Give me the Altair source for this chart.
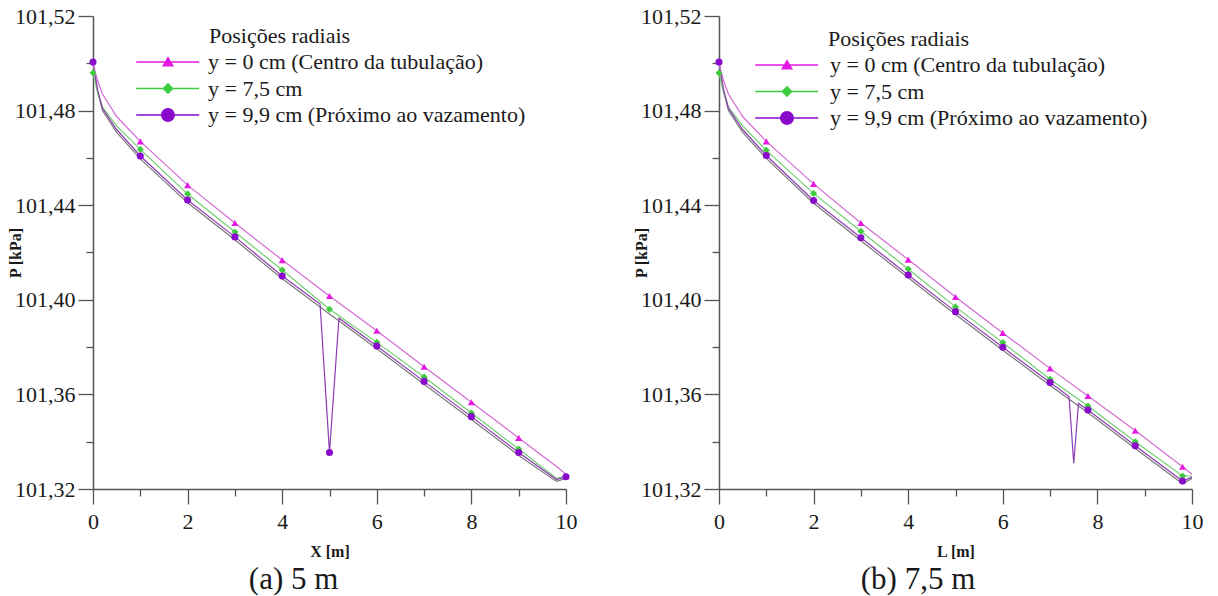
import altair as alt
import pandas as pd

SERIES = ["y = 0 cm (Centro da tubulação)", "y = 7,5 cm", "y = 9,9 cm (Próximo ao vazamento)"]
MARK_COLORS = ["#E41AE4", "#3DCC3D", "#8A0ACB"]
LINE_COLORS = ["#D36AD3", "#6FCF6F", "#8E3DB3"]
GRAY_LINE = "#7A7A7A"
SHAPES = ["triangle-up", "diamond", "circle"]

Y_MAJOR = [101.32, 101.36, 101.40, 101.44, 101.48, 101.52]
Y_MINOR = [101.34, 101.38, 101.42, 101.46, 101.50]
X_MAJOR = [0, 2, 4, 6, 8, 10]
X_MINOR = [1, 3, 5, 7, 9]

# ---------- panel (a): leak at 5 m ----------
A_X = [0, 0.1, 0.2, 0.5, 1, 2, 3, 4, 5, 6, 7, 8, 9, 9.8, 10]
A_MAG = [101.4998, 101.4925, 101.4870, 101.4775, 101.4670, 101.4485, 101.4325, 101.4168,
         101.4016, 101.3869, 101.3717, 101.3567, 101.3416, 101.3295, 101.3262]
A_GRN = [101.4959, 101.4875, 101.4815, 101.4735, 101.4636, 101.4447, 101.4287, 101.4126,
         101.3960, 101.3820, 101.3674, 101.3521, 101.3369, 101.3245, 101.3255]
A_GRAY = [101.4998, 101.4878, 101.4800, 101.4708, 101.4596, 101.4410, 101.4254, 101.4089,
          101.3940, 101.3793, 101.3643, 101.3494, 101.3342, 101.3232, 101.3245]
A_PUR_X = [0, 0.1, 0.2, 0.5, 1, 2, 3, 4, 4.8, 5, 5.2, 6, 7, 8, 9, 9.8, 10]
A_PUR = [101.5005, 101.4885, 101.4810, 101.4720, 101.4608, 101.4422, 101.4266, 101.4101,
         101.3982, 101.3354, 101.3922, 101.3805, 101.3655, 101.3506, 101.3354, 101.3240, 101.3252]

A_MAG_MK_X = [1, 2, 3, 4, 5, 6, 7, 8, 9]
A_MAG_MK = [101.4670, 101.4485, 101.4325, 101.4168, 101.4016, 101.3869, 101.3717, 101.3567, 101.3416]
A_GRN_MK_X = [0, 1, 2, 3, 4, 5, 6, 7, 8, 9]
A_GRN_MK = [101.4959, 101.4636, 101.4447, 101.4287, 101.4126, 101.3960, 101.3820, 101.3674, 101.3521, 101.3369]
A_PUR_MK_X = [0, 1, 2, 3, 4, 5, 6, 7, 8, 9, 10]
A_PUR_MK = [101.5005, 101.4608, 101.4422, 101.4266, 101.4101, 101.3354, 101.3805, 101.3655,
            101.3506, 101.3354, 101.3252]

# ---------- panel (b): leak at 7.5 m ----------
B_X = [0, 0.1, 0.2, 0.5, 1, 2, 3, 4, 5, 6, 7, 7.8, 8.8, 9.8, 10]
B_MAG = [101.4998, 101.4925, 101.4870, 101.4775, 101.4670, 101.4490, 101.4325, 101.4170,
         101.4012, 101.3860, 101.3710, 101.3593, 101.3447, 101.3294, 101.3262]
B_GRN = [101.4959, 101.4875, 101.4815, 101.4735, 101.4632, 101.4450, 101.4290, 101.4130,
         101.3970, 101.3819, 101.3664, 101.3551, 101.3400, 101.3255, 101.3255]
B_GRAY = [101.4998, 101.4878, 101.4800, 101.4708, 101.4598, 101.4408, 101.4250, 101.4093,
          101.3938, 101.3787, 101.3638, 101.3522, 101.3371, 101.3222, 101.3245]
B_PUR_X = [0, 0.1, 0.2, 0.5, 1, 2, 3, 4, 5, 6, 7, 7.4, 7.5, 7.6, 7.8, 8.8, 9.8, 10]
B_PUR = [101.5005, 101.4885, 101.4810, 101.4720, 101.4610, 101.4420, 101.4262, 101.4105,
         101.3950, 101.3799, 101.3650, 101.3591, 101.3309, 101.3562, 101.3534, 101.3383,
         101.3234, 101.3250]

B_MAG_MK_X = [1, 2, 3, 4, 5, 6, 7, 7.8, 8.8, 9.8]
B_MAG_MK = [101.4670, 101.4490, 101.4325, 101.4170, 101.4012, 101.3860, 101.3710, 101.3593,
            101.3447, 101.3294]
B_GRN_MK_X = [0, 1, 2, 3, 4, 5, 6, 7, 7.8, 8.8, 9.8]
B_GRN_MK = [101.4959, 101.4632, 101.4450, 101.4290, 101.4130, 101.3970, 101.3819, 101.3664,
            101.3551, 101.3400, 101.3255]
B_PUR_MK_X = [0, 1, 2, 3, 4, 5, 6, 7, 7.8, 8.8, 9.8]
B_PUR_MK = [101.5005, 101.4610, 101.4420, 101.4262, 101.4105, 101.3950, 101.3799, 101.3650,
            101.3534, 101.3383, 101.3234]

FONT = "Times New Roman, Liberation Serif, Tinos, serif"
AXIS_COLOR = "#555555"
TEXT_COLOR = "#1a1a1a"

# legend symbols: a line segment with the marker on it (unit = sqrt(size)/2 px)
SEG = "M-5.3,-0.11L5.2,-0.11L5.2,0.11L-5.3,0.11Z"
LEGEND_PATHS = [
    SEG + "M0,-0.95L1.0,0.75L-1.0,0.75Z",
    SEG + "M0,-0.95L0.95,0L0,0.95L-0.95,0Z",
    SEG + "M1.15,0A1.15,1.15,0,1,1,-1.15,0A1.15,1.15,0,1,1,1.15,0Z",
]


def lines_frame(x_lists, y_lists, colors):
    rows = []
    for k, (xs, ys, c) in enumerate(zip(x_lists, y_lists, colors)):
        for xv, yv in zip(xs, ys):
            rows.append({"x": xv, "p": yv, "lc": c, "k": k})
    return pd.DataFrame(rows)


def marks_frame(x_lists, y_lists):
    rows = []
    for k, (xs, ys) in enumerate(zip(x_lists, y_lists)):
        for xv, yv in zip(xs, ys):
            rows.append({"x": xv, "p": yv, "serie": SERIES[k], "mc": MARK_COLORS[k],
                         "shp": SHAPES[k], "k": k})
    return pd.DataFrame(rows)


def panel(ldf, mdf, xtitle, caption, legx, legy, laboff, symoff):
    xs = alt.Scale(domain=[0, 10], nice=False, zero=False)
    ys = alt.Scale(domain=[101.32, 101.52], nice=False, zero=False)

    x_major = alt.Axis(values=X_MAJOR, format="d", tickSize=15, tickColor=AXIS_COLOR, tickWidth=1.3,
                       domainColor=AXIS_COLOR, domainWidth=1.5, grid=False,
                       labelFont=FONT, labelFontSize=22, labelColor=TEXT_COLOR, labelPadding=7,
                       labelOverlap=False, labelFlush=False,
                       title=xtitle, titleFont=FONT, titleFontSize=16, titleFontWeight="bold",
                       titleColor=TEXT_COLOR, titleX=236.5, titleY=67, titleBaseline="alphabetic",
                       orient="bottom")
    y_major = alt.Axis(values=Y_MAJOR, tickSize=15, tickColor=AXIS_COLOR, tickWidth=1.3,
                       domainColor=AXIS_COLOR, domainWidth=1.5, grid=False,
                       labelExpr="replace(format(datum.value, '.2f'), '.', ',')",
                       labelFont=FONT, labelFontSize=22, labelColor=TEXT_COLOR, labelPadding=3,
                       labelOverlap=False, labelFlush=False,
                       title="P [kPa]", titleFont=FONT, titleFontSize=16, titleFontWeight="bold",
                       titleColor=TEXT_COLOR, titleX=-78, titleY=236.5, titleAngle=270,
                       titleAlign="center", titleBaseline="middle", orient="left")
    x_minor = alt.Axis(values=X_MINOR, tickSize=7, tickColor=AXIS_COLOR, tickWidth=1.3,
                       domain=False, labels=False, grid=False, title=None, orient="bottom")
    y_minor = alt.Axis(values=Y_MINOR, tickSize=7, tickColor=AXIS_COLOR, tickWidth=1.3,
                       domain=False, labels=False, grid=False, title=None, orient="left")

    lines = alt.Chart(ldf).mark_line(strokeWidth=1.2).encode(
        x=alt.X("x:Q", scale=xs, axis=x_major),
        y=alt.Y("p:Q", scale=ys, axis=y_major),
        stroke=alt.Stroke("lc:N", scale=None),
        detail="k:N",
        order=alt.Order("x:Q"),
    )

    pts = alt.Chart(mdf).mark_point(filled=True, size=50, opacity=1, strokeWidth=0).encode(
        x=alt.X("x:Q", scale=xs, axis=x_minor),
        y=alt.Y("p:Q", scale=ys, axis=y_minor),
        fill=alt.Fill("mc:N", scale=None),
        shape=alt.Shape("shp:N", scale=None),
        order=alt.Order("k:Q"),
    )

    legend = alt.Legend(
        orient="none", legendX=legx, legendY=legy, title="Posições radiais",
        titleFont=FONT, titleFontSize=22, titleFontWeight="normal", titleColor=TEXT_COLOR,
        titlePadding=3, labelFont=FONT, labelFontSize=22, labelColor=TEXT_COLOR,
        labelOffset={"expr": str(laboff)}, symbolOffset={"expr": str(symoff)},
        labelLimit=800, symbolSize=144,
        symbolStrokeWidth=0, symbolOpacity=1, rowPadding=4.5, padding=0,
    )
    leg_layer = alt.Chart(mdf).mark_point(filled=True, opacity=0).encode(
        x=alt.X("x:Q", scale=xs, axis=None),
        y=alt.Y("p:Q", scale=ys, axis=None),
        color=alt.Color("serie:N", scale=alt.Scale(domain=SERIES, range=MARK_COLORS), legend=legend),
        shape=alt.Shape("serie:N", scale=alt.Scale(domain=SERIES, range=LEGEND_PATHS), legend=legend),
    )

    return alt.layer(lines, pts, leg_layer).resolve_axis(x="independent", y="independent").properties(
        width=473, height=473,
        title=alt.TitleParams(caption, orient="bottom", anchor="middle", frame="bounds", font=FONT,
                              fontSize=31, fontWeight="normal", color=TEXT_COLOR, offset=6),
    )


a_lines = lines_frame([A_X, A_X, A_PUR_X, A_X], [A_GRAY, A_GRN, A_PUR, A_MAG],
                      [GRAY_LINE, LINE_COLORS[1], LINE_COLORS[2], LINE_COLORS[0]])
a_marks = marks_frame([A_MAG_MK_X, A_GRN_MK_X, A_PUR_MK_X], [A_MAG_MK, A_GRN_MK, A_PUR_MK])
b_lines = lines_frame([B_X, B_X, B_PUR_X, B_X], [B_GRAY, B_GRN, B_PUR, B_MAG],
                      [GRAY_LINE, LINE_COLORS[1], LINE_COLORS[2], LINE_COLORS[0]])
b_marks = marks_frame([B_MAG_MK_X, B_GRN_MK_X, B_PUR_MK_X], [B_MAG_MK, B_GRN_MK, B_PUR_MK])

left = panel(a_lines, a_marks, "X [m]", "(a) 5 m", 116, 10, 29, -52)
right = panel(b_lines, b_marks, "L [m]", "(b) 7,5 m", 109, 13, 32, -52)

chart = alt.hconcat(left, right, spacing=52).resolve_scale(
    color="independent", shape="independent"
).resolve_legend(
    color="independent", shape="independent"
).properties(
    padding={"left": 7, "top": 5, "right": 0, "bottom": 0},
    background="white",
).configure_view(stroke=None)

chart.save("out.html", embed_options={"renderer": "svg", "actions": False})
